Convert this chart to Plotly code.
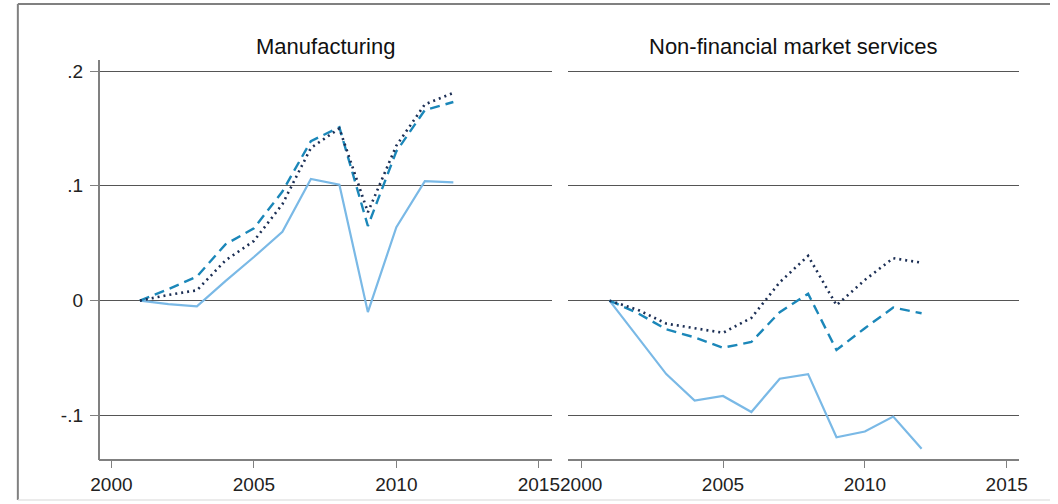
import plotly.graph_objects as go

years = [2001, 2002, 2003, 2004, 2005, 2006, 2007, 2008, 2009, 2010, 2011, 2012]

# Manufacturing
manu_solid = [0.0, -0.003, -0.005, 0.017, 0.038, 0.060, 0.106, 0.101, -0.010, 0.064, 0.104, 0.103]
manu_dash = [0.0, 0.010, 0.021, 0.049, 0.063, 0.095, 0.139, 0.151, 0.065, 0.130, 0.166, 0.173]
manu_dot = [0.0, 0.005, 0.009, 0.035, 0.052, 0.084, 0.133, 0.150, 0.077, 0.135, 0.171, 0.181]

# Non-financial market services
serv_solid = [0.0, -0.032, -0.064, -0.087, -0.083, -0.097, -0.068, -0.064, -0.119, -0.114, -0.101, -0.129]
serv_dash = [0.0, -0.011, -0.025, -0.032, -0.041, -0.036, -0.010, 0.006, -0.043, -0.024, -0.006, -0.011]
serv_dot = [0.0, -0.008, -0.020, -0.024, -0.028, -0.015, 0.016, 0.039, -0.004, 0.018, 0.037, 0.033]

panel_titles = ["Manufacturing", "Non-financial market services"]
x_ticks = [2000, 2005, 2010, 2015]
y_ticks = [-0.1, 0, 0.1, 0.2]
y_tick_labels = ["-.1", "0", ".1", ".2"]

W, H = 1058, 504
def px(x):
    return x / W
def py(y):
    return 1 - y / H

c_solid = "#7ab9e6"
c_dash = "#1b87b9"
c_dot = "#1c2f55"

fig = go.Figure()
for ax, (s, d, o) in zip(["", "2"], [(manu_solid, manu_dash, manu_dot), (serv_solid, serv_dash, serv_dot)]):
    xa = "x" + ax
    ya = "y" + ax
    fig.add_trace(go.Scatter(x=years, y=s, mode="lines", xaxis=xa, yaxis=ya,
                             line=dict(color=c_solid, width=2.2), showlegend=False))
    fig.add_trace(go.Scatter(x=years, y=d, mode="lines", xaxis=xa, yaxis=ya,
                             line=dict(color=c_dash, width=2.4, dash="10px,6px"), showlegend=False))
    fig.add_trace(go.Scatter(x=years, y=o, mode="lines", xaxis=xa, yaxis=ya,
                             line=dict(color=c_dot, width=2.6, dash="2px,4px"), showlegend=False))

xr = [1999.55, 2015.45]
yr = [-0.1388, 0.2096]
tickfont = dict(family="Liberation Sans, Arial, sans-serif", size=19, color="#222")
common_x = dict(range=xr, tickvals=x_ticks, ticktext=[str(t) for t in x_ticks],
                showgrid=False, zeroline=False, showline=True, linecolor="#808080", linewidth=1.5,
                ticks="outside", ticklen=7, tickcolor="#808080", tickwidth=1.2, tickfont=tickfont,
                anchor="free", position=py(460))

fig.update_layout(
    width=W, height=H,
    margin=dict(l=0, r=0, t=0, b=0),
    paper_bgcolor="white", plot_bgcolor="white",
    xaxis=dict(domain=[px(92), px(552)], **common_x),
    xaxis2=dict(domain=[px(569), px(1027)], **common_x),
    yaxis=dict(domain=[py(460), py(60)], range=yr, tickvals=y_ticks, ticktext=y_tick_labels,
               showgrid=True, gridcolor="#555555", gridwidth=1, zeroline=False,
               showline=True, linecolor="#808080", linewidth=1.5,
               ticks="outside", ticklen=8, tickcolor="#808080", tickwidth=1.2,
               ticklabelstandoff=3,
               tickfont=tickfont, anchor="free", position=px(92)),
    yaxis2=dict(domain=[py(460), py(60)], range=yr, tickvals=y_ticks,
                showgrid=True, gridcolor="#555555", gridwidth=1, zeroline=False,
                showline=False, showticklabels=False, ticks="",
                anchor="x2"),
)

for title, (a, b) in zip(panel_titles, [(92, 552), (569, 1027)]):
    fig.add_annotation(text=title, x=px((a + b) / 2), y=py(46), xref="paper", yref="paper",
                       showarrow=False, xanchor="center", yanchor="middle",
                       font=dict(family="Liberation Sans, Arial, sans-serif", size=22, color="#111"))

# outer frame
fig.add_shape(type="line", xref="paper", yref="paper", x0=px(10), x1=1, y0=py(4), y1=py(4),
              line=dict(color="#808080", width=2))
fig.add_shape(type="line", xref="paper", yref="paper", x0=px(10), x1=px(10), y0=py(4), y1=py(500),
              line=dict(color="#808080", width=2))
fig.add_shape(type="line", xref="paper", yref="paper", x0=px(10), x1=1, y0=py(500), y1=py(500),
              line=dict(color="#e4e4e4", width=1.5))

fig.write_html("out.html")
